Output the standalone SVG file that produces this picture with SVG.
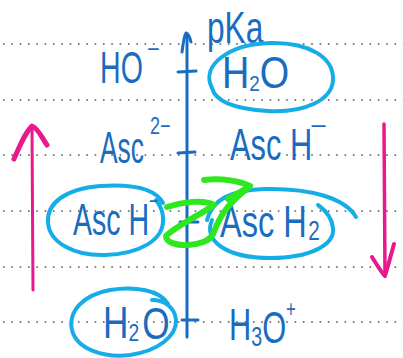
<svg xmlns="http://www.w3.org/2000/svg" width="403" height="358" viewBox="0 0 403 358">
<style>
.dot{stroke:#555;stroke-width:1.6;stroke-dasharray:1.6 6.73;fill:none}
.ax{stroke:#1a6cc0;stroke-width:3;fill:none;stroke-linecap:round;stroke-linejoin:round}
.t{font-family:"Liberation Sans",Arial,sans-serif;fill:#1a6cc0;font-size:44px}
.s{font-size:24px}
.ring{stroke:#14ade8;stroke-width:4;fill:none;stroke-linecap:round}
.mg{stroke:#e8198c;fill:none;stroke-linecap:round;stroke-linejoin:round}
.gr{stroke:#2ee81f;stroke-width:6;fill:none;stroke-linecap:round;stroke-linejoin:round}
</style>
<rect width="403" height="358" fill="#fff"/>
<g id="grid">
<line class="dot" x1="3" y1="44" x2="403" y2="44"/>
<line class="dot" x1="3" y1="100" x2="403" y2="100"/>
<line class="dot" x1="3" y1="155" x2="403" y2="155"/>
<line class="dot" x1="3" y1="211" x2="403" y2="211"/>
<line class="dot" x1="3" y1="267" x2="403" y2="267"/>
<line class="dot" x1="3" y1="322" x2="403" y2="322"/>
</g>
<g id="connectors">
<path class="ax" d="M187,36 L187,337"/>
<path class="ax" d="M182,52 C183,44 184,36 186,33 C189,34 190,38 191,42"/>
<path class="ax" d="M178,72 L196,71"/>
<path class="ax" d="M178,153 L195,152"/>
<path class="ax" d="M180,222 L198,222"/>
<path class="ax" d="M182,320 L198,320"/>
<path class="mg" stroke-width="3" d="M33,290 L32,129"/>
<path class="mg" stroke-width="5" d="M14,159 C20,145 25,133 32,126 C38,128 42,138 47,145"/>
<path class="mg" stroke-width="3.5" d="M384,124 C384,175 385,225 385,275"/>
<path class="mg" stroke-width="4" d="M372,257 C377,265 381,272 385,276 C388,266 391,255 394,244"/>
</g>
<g id="node-HO">
<text class="t" transform="translate(100,83) scale(0.65,1)" x="0" y="0">HO</text>
<text class="t s" transform="translate(147,57) scale(0.9,1)" x="0" y="0">−</text>
</g>
<g id="node-pKa">
<text class="t" transform="translate(207,43) scale(0.72,1)" x="0" y="0" font-size="40">pKa</text>
</g>
<g id="node-H2O-top">
<path class="ring" d="M212,88 C200,65 230,44 270,43 C310,42 334,58 333,80 C332,100 305,113 268,111 C232,109 215,100 212,88 Z"/>
<text class="t" transform="translate(222,88) scale(0.86,1)" x="0" y="0" font-size="40">H<tspan font-size="22" dy="3">2</tspan><tspan dy="-3">O</tspan></text>
</g>
<g id="node-Asc2">
<text class="t" transform="translate(100,163) scale(0.6,1)" x="0" y="0">Asc</text>
<text class="t s" transform="translate(150,134) scale(0.75,1)" x="0" y="0">2−</text>
</g>
<g id="node-AscH-right">
<text class="t" transform="translate(230,160) scale(0.7,1)" x="0" y="0">Asc H</text>
<text class="t s" transform="translate(310,134) scale(1.2,1)" x="0" y="0">−</text>
</g>
<g id="node-AscH-left">
<path class="ring" d="M163,203 C155,188 130,184 100,186 C65,189 47,203 48,222 C49,243 75,256 105,255 C140,254 162,240 163,222 C164,212 160,205 156,200"/>
<text class="t" transform="translate(73,235) scale(0.65,1)" x="0" y="0">Asc H</text>
<text class="t s" transform="translate(149,209) scale(0.65,1)" x="0" y="0">−</text>
</g>
<g id="node-AscH2">
<path class="ring" d="M207,220 C212,200 230,190 265,189 C310,188 345,198 356,217 M212,220 C203,240 225,258 270,258 C310,258 335,245 333,228 C332,218 325,210 318,205"/>
<text class="t" transform="translate(220,237) scale(0.74,1)" x="0" y="0">Asc H<tspan font-size="28" dx="2" dy="3">2</tspan></text>
</g>
<g id="node-H2O-bottom">
<path class="ring" d="M168,304 C160,290 135,286 110,290 C82,295 68,312 72,330 C77,350 105,358 130,355 C158,351 177,336 176,320 C175,308 165,300 152,300"/>
<text class="t" transform="translate(103,338) scale(0.8,1)" x="0" y="0">H<tspan class="s" dy="3">2</tspan><tspan dx="4" dy="-2">O</tspan></text>
</g>
<g id="node-H3O">
<text class="t" transform="translate(229,340) scale(0.7,1)" x="0" y="0">H<tspan font-size="28" dy="6">3</tspan><tspan dy="-3">O</tspan><tspan class="s" dy="-26">+</tspan></text>
</g>
<g id="green-mark">
<path class="gr" d="M167,207 C182,202 204,199 214,205 C200,215 176,226 166,236 C166,249 207,248 213,234 C218,222 223,207 249,187"/>
<path class="gr" d="M204,180 C222,178 240,181 250,186 L228,199"/>
</g>
</svg>
